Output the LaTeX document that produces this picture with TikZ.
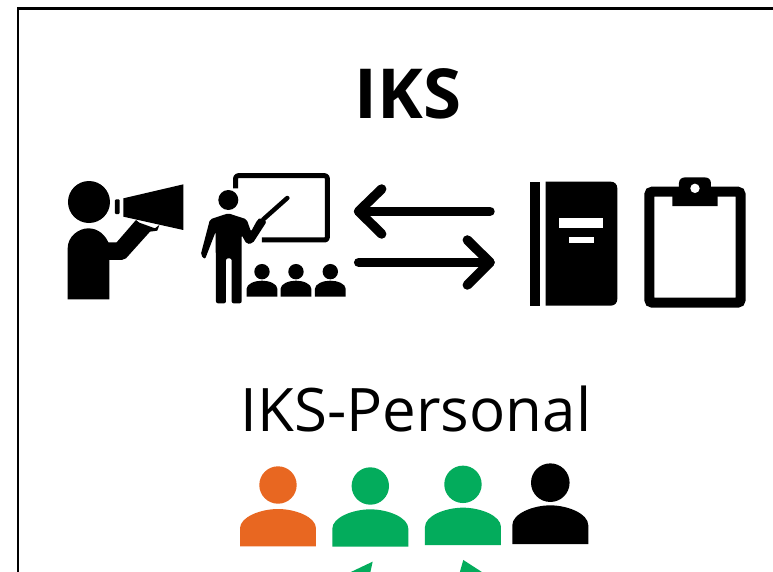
\documentclass[tikz,border=0pt]{standalone}
\usepackage{fontspec}
\setmainfont{Open Sans}
\definecolor{ikorange}{RGB}{232,103,33}
\definecolor{ikgreen}{RGB}{3,172,92}
\tikzset{
  bigline/.style={line width=9.5pt,draw=black,line cap=round,line join=round},
  personbody/.pic={
    \fill[pic actions] (0,112) -- (0,58) .. controls (0,24) and (62,0) .. (114,0)
      .. controls (166,0) and (228,24) .. (228,58) -- (228,112) -- cycle;
  }
}
\begin{document}
\begin{tikzpicture}[x=1pt,y=-1pt]
\useasboundingbox (0,0) rectangle (773,571);
\fill[white] (0,0) rectangle (773,571);
\clip (0,0) rectangle (773,571);
% frame
\draw[line width=2.4pt,line cap=butt] (18,575) -- (18,8.3) -- (777,8.3);
% titles
\node[font=\fontsize{69}{69}\selectfont\bfseries,anchor=base,inner sep=0pt] (title) at (408,118) {IKS};
\node[font=\fontsize{60}{60}\selectfont,anchor=base,inner sep=0pt] (subtitle) at (416,431) {IKS-Personal};
% megaphone person
\begin{scope}[shift={(50,160)},x=0.3333pt,y=-0.3333pt]
  \fill (117,126) circle (21pt);
  \fill (53,418) -- (53,265) .. controls (53,230) and (85,205) .. (115,205)
     .. controls (145,205) and (165,225) .. (175,247) -- (200,247) -- (258,180)
     -- (268,188) -- (315,205) -- (328,195) -- (322,212) -- (300,215) -- (228,295) -- (215,300) -- (178,300) -- (178,418) -- cycle;
  \fill (220,115) -- (400,73) -- (400,210) -- (220,170) -- cycle;
  \fill[rounded corners=1pt] (195,118) rectangle (209,162);
  % teacher
  \draw[line width=5pt,line join=round,rounded corners=2.5pt] (557,85) -- (557,47) -- (832,47) -- (832,240) -- (636,240);
  \fill (535,120) circle (10pt);
  \fill[rounded corners=2pt] (498,430) -- (528,430) -- (528,295) -- (545,295) -- (545,430) -- (575,430)
     -- (575,225) -- (590,252) -- (608,250) -- (650,185) -- (632,172) -- (622,180) -- (603,215)
     -- (590,178) -- (535,160) -- (480,178) -- (452,285) -- (465,298) -- (497,215) -- cycle;
  \draw[line width=4.5pt,line cap=round] (640,178) -- (712,114);
  \foreach \cx in {636,738,841}{
    \fill (\cx,335) circle (7.7pt);
    \fill (\cx-46,410) -- (\cx-46,386) .. controls (\cx-46,372) and (\cx-22,362) .. (\cx,362)
      .. controls (\cx+22,362) and (\cx+46,372) .. (\cx+46,386) -- (\cx+46,410) -- cycle;
  }
\end{scope}
% arrows, book, clipboard
\begin{scope}[shift={(340,160)},x=0.3333pt,y=-0.3333pt]
  \draw[bigline] (450,154) -- (56,154);
  \draw[bigline] (125,87) -- (56,154) -- (125,222);
  \draw[bigline] (56,307) -- (450,307);
  \draw[bigline] (382,240) -- (450,307) -- (382,375);
  \fill (570,65) rectangle (600,437);
  \fill (617,65) -- (812,65) .. controls (824,65) and (832,73) .. (832,85)
     -- (832,417) .. controls (832,429) and (824,437) .. (812,437) -- (617,437) -- cycle;
  \fill[white] (658,175) rectangle (790,204);
  \fill[white] (688,232) rectangle (762,250);
  \draw[line width=10pt,rounded corners=3pt] (928,95) rectangle (1202,428);
  \fill (997,138) -- (997,95) -- (1017,95) -- (1017,70) .. controls (1017,58) and (1025,52) .. (1037,52)
     -- (1093,52) .. controls (1105,52) and (1113,58) .. (1113,70) -- (1113,95) -- (1133,95) -- (1133,138) -- cycle;
  \fill[white] (1065,85) circle (4.7pt);
\end{scope}
% people
\begin{scope}[shift={(220,450)},x=0.3333pt,y=-0.3333pt]
  \fill[ikorange] (174,105) circle (18.7pt);
  \pic[fill=ikorange] at (60,177) {personbody};
  \fill[ikgreen] (451,108) circle (18.7pt);
  \pic[fill=ikgreen] at (337,178) {personbody};
  \fill[ikgreen] (729,103) circle (18.7pt);
  \pic[fill=ikgreen] at (615,173) {personbody};
  \fill[black] (991,98) circle (19.3pt);
  \pic[fill=black,yscale=1.036] at (877,166) {personbody};
  \fill[ikgreen] (458,335) -- (380,372) -- (450,372) -- cycle;
  \fill[ikgreen] (730,330) -- (718,372) -- (795,372) -- cycle;
\end{scope}
\end{tikzpicture}
\end{document}
